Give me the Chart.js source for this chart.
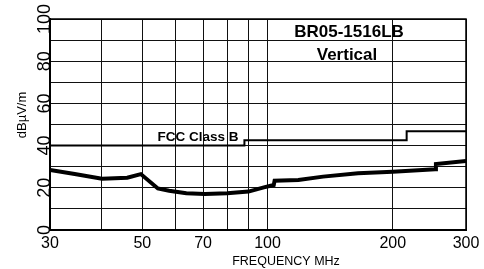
<!DOCTYPE html>
<html>
<head>
<meta charset="utf-8">
<script src="https://cdn.jsdelivr.net/npm/chart.js"></script>
<style>
  html, body { margin: 0; padding: 0; background: #fff; }
  #wrap { width: 484px; height: 269px; }
</style>
</head>
<body>
<div id="wrap"><canvas id="emcChart" width="484" height="269"></canvas></div>
<script>
// Measured emission (vertical polarisation)
const measFreq = [30, 34.4, 40, 46, 49.6, 54.5, 58, 63.8, 70.7, 80, 90, 98, 103.5, 104, 118.6, 136, 165, 200, 253, 254, 300];
const measLevel = [28.4, 26.5, 24.3, 24.8, 26.5, 19.7, 18.6, 17.4, 17.1, 17.4, 18.2, 20.2, 21.3, 23.4, 23.7, 25.3, 26.9, 27.6, 28.8, 31.3, 32.7];

// FCC Class B limit (stepped)
const limitFreq = [30, 88, 216, 300];
const limitLevel = [40, 42.5, 46.8, 46.8];

// axis ticks
const xGridValues = [30, 40, 50, 60, 70, 80, 90, 100, 200, 300];
const xLabelValues = [30, 50, 70, 100, 200, 300];
const yLabelValues = [0, 20, 40, 60, 80, 100];

const FONT = "'Liberation Sans', Arial, sans-serif";

// Extra text, rotated y labels and the plot frame
const textPlugin = {
    id: 'textPlugin',
    afterDraw(chart) {
        const ctx = chart.ctx;
        const area = chart.chartArea;
        const yScale = chart.scales.y;

        ctx.save();
        // frame on top / right
        ctx.strokeStyle = '#000';
        ctx.lineWidth = 1.5;
        ctx.beginPath();
        ctx.moveTo(area.left, area.top);
        ctx.lineTo(area.right, area.top);
        ctx.lineTo(area.right, area.bottom);
        ctx.stroke();

        ctx.fillStyle = '#000';
        ctx.textAlign = 'center';
        ctx.textBaseline = 'alphabetic';

        // rotated y tick labels (baseline next to the axis)
        ctx.font = '18px ' + FONT;
        yLabelValues.forEach(function(v) {
            ctx.save();
            ctx.translate(49.5, yScale.getPixelForValue(v));
            ctx.rotate(-Math.PI / 2);
            ctx.fillText(String(v), 0, 0);
            ctx.restore();
        });

        // y axis title
        ctx.save();
        ctx.font = '13px ' + FONT;
        ctx.translate(25.5, 115);
        ctx.rotate(-Math.PI / 2);
        ctx.fillText('dBµV/m', 0, 0);
        ctx.restore();

        // x axis title
        ctx.font = '12.5px ' + FONT;
        ctx.fillText('FREQUENCY MHz', 286, 265);

        // chart caption
        ctx.font = 'bold 17px ' + FONT;
        ctx.fillText('BR05-1516LB', 349, 37.3);
        ctx.fillText('Vertical', 347, 60);

        // limit label
        ctx.font = 'bold 13.5px ' + FONT;
        ctx.fillText('FCC Class B', 198, 141);
        ctx.restore();
    }
};

const ctx = document.getElementById('emcChart');
new Chart(ctx, {
    type: 'line',
    data: {
        datasets: [
            {
                label: 'FCC Class B',
                data: limitFreq.map((f, i) => ({ x: f, y: limitLevel[i] })),
                borderColor: '#000',
                borderWidth: 2,
                pointRadius: 0,
                // level holds until the next frequency, then steps
                stepped: 'before',
                fill: false
            },
            {
                label: 'Measured',
                data: measFreq.map((f, i) => ({ x: f, y: measLevel[i] })),
                borderColor: '#000',
                borderWidth: 4,
                pointRadius: 0,
                tension: 0,
                fill: false
            }
        ]
    },
    options: {
        responsive: false,
        animation: false,
        devicePixelRatio: 1,
        layout: { padding: { top: 19, right: 18, left: 0, bottom: 0 } },
        plugins: {
            legend: { display: false },
            tooltip: { enabled: false }
        },
        scales: {
            x: {
                type: 'logarithmic',
                min: 30,
                max: 300,
                afterBuildTicks: function(scale) {
                    scale.ticks = xGridValues.map(v => ({ value: v }));
                },
                afterFit: function(scale) {
                    scale.height = 39;
                },
                ticks: {
                    autoSkip: false,
                    maxRotation: 0,
                    minRotation: 0,
                    padding: 4,
                    color: '#000',
                    font: { family: FONT, size: 16 },
                    callback: function(value) {
                        return xLabelValues.includes(value) ? String(value) : '';
                    }
                },
                grid: { color: '#111', lineWidth: 1, drawTicks: false },
                border: { color: '#000', width: 2 }
            },
            y: {
                min: 0,
                max: 100,
                afterFit: function(scale) {
                    scale.width = 50;
                },
                ticks: { stepSize: 10, display: false },
                grid: { color: '#111', lineWidth: 1, drawTicks: false },
                border: { color: '#000', width: 2 }
            }
        }
    },
    plugins: [textPlugin]
});
</script>
</body>
</html>
